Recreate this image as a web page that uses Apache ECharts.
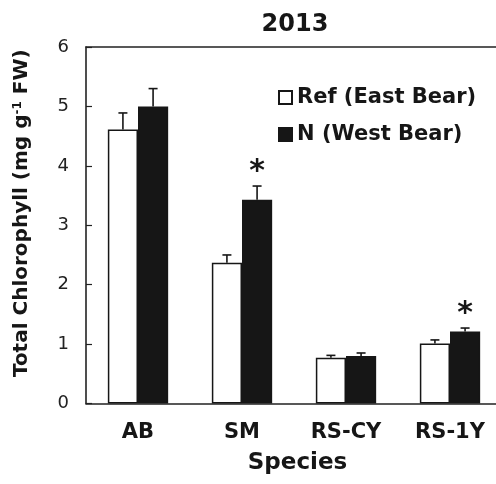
<!DOCTYPE html>
<html>
<head>
<meta charset="utf-8">
<script src="https://cdn.jsdelivr.net/npm/echarts@6/dist/echarts.min.js"></script>
<style>html,body{margin:0;padding:0;background:#fff;}#c{width:496px;height:484px;}</style>
</head>
<body>
<div id="c"></div>
<script>
const categories = ['AB', 'SM', 'RS-CY', 'RS-1Y'];
const seriesNames = ['Ref (East Bear)', 'N (West Bear)'];
const refValues = [4.61, 2.37, 0.77, 1.01];
const refErrTop = [4.89, 2.50, 0.81, 1.07];
const nValues = [5.00, 3.43, 0.80, 1.21];
const nErrTop = [5.30, 3.66, 0.85, 1.27];
const significant = [false, true, false, true];
const yMin = 0, yMax = 6, yStep = 1;

const FONT = 'DejaVu Sans';
const INK = '#161616';
const BAR_FRAC = 0.29;

function errSeries(values, tops, sign) {
  return {
    type: 'custom',
    coordinateSystem: 'cartesian2d',
    silent: true,
    z: 5,
    data: categories.map((c, i) => [i, values[i], tops[i]]),
    renderItem: function (params, api) {
      const band = api.size([1, 0])[0];
      const off = sign * band * BAR_FRAC / 2;
      const p0 = api.coord([api.value(0), api.value(1)]);
      const p1 = api.coord([api.value(0), api.value(2)]);
      const x = p0[0] + off;
      const st = { stroke: INK, lineWidth: 1.6 };
      return {
        type: 'group',
        children: [
          { type: 'line', shape: { x1: x, y1: p0[1], x2: x, y2: p1[1] }, style: st },
          { type: 'line', shape: { x1: x - 4.5, y1: p1[1], x2: x + 4.5, y2: p1[1] }, style: st }
        ]
      };
    }
  };
}

const starData = [];
significant.forEach((s, i) => { if (s) starData.push([i, nErrTop[i]]); });

const chart = echarts.init(document.getElementById('c'), null, { renderer: 'canvas' });
chart.setOption({
  animation: false,
  backgroundColor: '#fff',
  title: {
    text: '2013', left: 290, top: 8, textAlign: 'center',
    textStyle: { fontFamily: FONT, fontWeight: 'bold', fontSize: 24, color: INK }
  },
  legend: {
    orient: 'vertical', left: 273, top: 82, itemGap: 16,
    itemWidth: 13, itemHeight: 13, icon: 'rect', selectedMode: false,
    data: seriesNames,
    textStyle: { fontFamily: FONT, fontWeight: 'bold', fontSize: 21, color: INK }
  },
  grid: { left: 86, top: 47, width: 416, height: 356.5, containLabel: false, outerBoundsMode: 'none' },
  xAxis: [{
    type: 'category', data: categories, position: 'bottom',
    axisLine: { show: true, lineStyle: { color: '#222', width: 1.6 } },
    axisTick: { show: false },
    axisLabel: { margin: 19, fontFamily: FONT, fontWeight: 'bold', fontSize: 21, color: INK },
    name: 'Species', nameLocation: 'middle', nameGap: 48,
    nameTextStyle: { fontFamily: FONT, fontWeight: 'bold', fontSize: 23, color: INK, padding: [0, 0, 0, 7] }
  }, {
    type: 'category', data: categories, position: 'top',
    axisLine: { show: true, lineStyle: { color: '#222', width: 1.6 } },
    axisTick: { show: false }, axisLabel: { show: false }
  }],
  yAxis: {
    type: 'value', min: yMin, max: yMax, interval: yStep,
    splitLine: { show: false },
    axisLine: { show: true, lineStyle: { color: '#222', width: 1.6 } },
    axisTick: { show: true, inside: true, length: 6, lineStyle: { color: '#222', width: 1.2 } },
    axisLabel: { margin: 17, fontFamily: FONT, fontSize: 18, color: '#222' },
    name: 'Total Chlorophyll (mg g{sup|-1} FW)', nameLocation: 'middle', nameGap: 54,
    nameTextStyle: {
      fontFamily: FONT, fontWeight: 'bold', fontSize: 20, color: INK, padding: [0, 0, 0, 24],
      rich: { sup: { fontFamily: FONT, fontWeight: 'bold', fontSize: 12, color: INK, verticalAlign: 'top', padding: [0, 0, 8, 0] } }
    }
  },
  series: [
    {
      name: seriesNames[0], type: 'bar', data: refValues, barWidth: (BAR_FRAC * 100) + '%', barGap: '0%',
      itemStyle: { color: '#ffffff', borderColor: INK, borderWidth: 1.5 }
    },
    {
      name: seriesNames[1], type: 'bar', data: nValues, barWidth: (BAR_FRAC * 100) + '%', barGap: '0%',
      itemStyle: { color: INK, borderColor: INK, borderWidth: 1.5 }
    },
    errSeries(refValues, refErrTop, -1),
    errSeries(nValues, nErrTop, 1),
    {
      type: 'custom', coordinateSystem: 'cartesian2d', silent: true, z: 6,
      data: starData,
      renderItem: function (params, api) {
        const band = api.size([1, 0])[0];
        const off = band * BAR_FRAC / 2;
        const p = api.coord([api.value(0), api.value(1)]);
        return {
          type: 'text',
          style: {
            text: '*', x: p[0] + off, y: p[1] + 1, align: 'center', verticalAlign: 'bottom',
            font: 'bold 30px "DejaVu Sans"', fill: INK
          }
        };
      }
    }
  ]
});
</script>
</body>
</html>
